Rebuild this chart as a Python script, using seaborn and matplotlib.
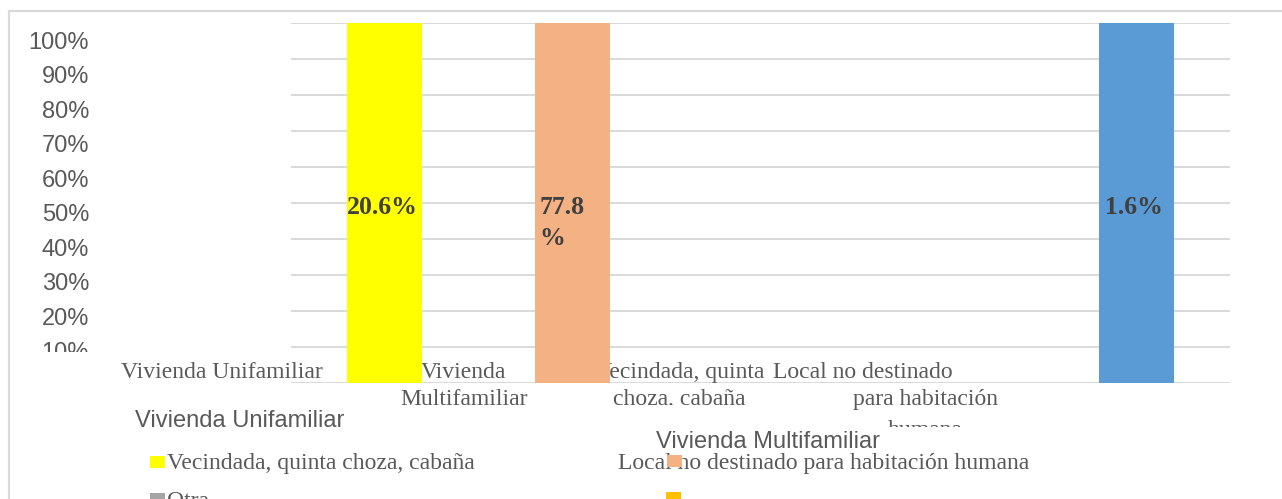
import numpy as np
import pandas as pd
import seaborn as sns
import matplotlib
matplotlib.use("Agg")
import matplotlib.pyplot as plt
from matplotlib import transforms
from matplotlib.patches import Rectangle

# ---------------- data ----------------
categories = ["Vivienda Unifamiliar", "Vivienda Multifamiliar",
              "Vecindada, quinta choza, cabaña",
              "Local no destinado para habitación humana", "Otra"]
axis_labels = ["Vivienda Unifamiliar", "Vivienda\nMultifamiliar",
               "Vecindada, quinta\nchoza, cabaña",
               "Local no destinado\npara habitación\nhumana", "Otra"]
values = [20.6, 77.8, 0.0, 0.0, 1.6]          # percent shown on bars
bar_colors = ["#FFFF00", "#F4B183", "#FFFFFF", "#FFFFFF", "#5B9BD5"]
y_ticks = [0.0, 0.1, 0.2, 0.3, 0.4, 0.5, 0.6, 0.7, 0.8, 0.9, 1.0]
y_tick_labels = ["0%", "10%", "20%", "30%", "40%", "50%", "60%", "70%", "80%", "90%", "100%"]
legend_labels = ["Vivienda Unifamiliar", "Vivienda Multifamiliar",
                 "Vecindada, quinta choza, cabaña",
                 "Local no destinado para habitación humana", "Otra", ""]
legend_colors = [None, None, "#FFFF00", "#F4B183", "#A5A5A5", "#FFC000"]

# 100% stacked: each category holds a single series -> share of its category
shares = [1.0 if v > 0 else 0.0 for v in values]

# ---------------- style ----------------
W, H = 1282, 499
sns.set_theme(style="white")
plt.rcParams["font.family"] = ["Liberation Sans", "DejaVu Sans"]
TXT = "#595959"
SERIF = ["Liberation Serif", "DejaVu Serif"]
SANS = ["Liberation Sans", "DejaVu Sans"]

fig = plt.figure(figsize=(W / 100, H / 100), dpi=100)
top_px = transforms.Affine2D().scale(1 / W, -1 / H).translate(0, 1) + fig.transFigure


def mask(x0, y0, x1, y1):
    """White cover that cuts text off where the original chart clips it."""
    fig.patches.append(Rectangle((x0, y1), x1 - x0, y0 - y1, transform=top_px,
                                 facecolor="white", edgecolor="none", zorder=1))


# outer frame
fig.patches.append(Rectangle((9 / W, -0.2), 1.5, 1.2 - 11 / H, transform=fig.transFigure,
                             fill=False, edgecolor="#D9D9D9", linewidth=1.6, zorder=0.5))

# main plot area
ax_l, ax_r, ax_t, ax_b = 291, 1230, 23, 383
ax = fig.add_axes([ax_l / W, 1 - ax_b / H, (ax_r - ax_l) / W, (ax_b - ax_t) / H])
df = pd.DataFrame({"cat": categories, "share": shares})
sns.barplot(data=df, x="cat", y="share", hue="cat", order=categories, hue_order=categories,
            palette=dict(zip(categories, bar_colors)), width=0.4, saturation=1,
            legend=False, ax=ax, zorder=2, linewidth=0, edgecolor="none")
ax.set_xlim(-0.5, len(categories) - 0.5)
ax.set_ylim(0, 1)
ax.set_yticks(y_ticks)
ax.yaxis.grid(True, color="#D9D9D9", linewidth=1.4, zorder=0)
ax.set_axisbelow(True)
ax.tick_params(left=False, labelleft=False, bottom=False, labelbottom=False)
ax.set_xlabel("")
ax.set_ylabel("")
for s in ax.spines.values():
    s.set_visible(False)

# category labels (drawn beneath bars)
line_dx = [[-163], [-109, -109], [-81, -81], [-85, -23, -23], [0]]
line_y = [373, 400, 431]
for i, lab in enumerate(axis_labels):
    for j, line in enumerate(lab.split("\n")):
        tr = transforms.blended_transform_factory(ax.transData, top_px) + \
            transforms.ScaledTranslation(line_dx[i][j] / 100, 0, fig.dpi_scale_trans)
        ax.text(i, line_y[j], line, transform=tr, ha="center", va="center",
                fontsize=17, family=SERIF, color=TXT, zorder=1)
mask(390, 405, 775, 420)
mask(880, 427, 980, 445)

# value labels on bars
wrap = [False, True, False, False, False]
for i, v in enumerate(values):
    if v <= 0:
        continue
    txt = f"{v:.1f}%"
    if wrap[i]:
        txt = txt[:-1] + "\n%"
        ax.text(i - 0.2 + 0.025, 0.52, txt, ha="left", va="top", fontsize=18.5,
                family=SERIF, weight="bold", color="#404040", zorder=3, linespacing=1.45)
    else:
        ax.text(i - 0.012, 0.488, txt, ha="center", va="center", fontsize=18.5,
                family=SERIF, weight="bold", color="#404040", zorder=3)

# y tick labels (own strip, cut off at the bottom like the original)
ax_lab = fig.add_axes([0, 1 - 352 / H, 100 / W, (352 - 15) / H])
ax_lab.set_axis_off()
ax_lab.set_xlim(0, 100)
zero_px, full_px = 387.4, 43.0
ax_lab.set_ylim((zero_px - 352) / (zero_px - full_px), (zero_px - 15) / (zero_px - full_px))
for v, lab in zip(y_ticks[1:], y_tick_labels[1:]):
    ax_lab.text(89, v, lab, ha="right", va="center", fontsize=17, family=SANS, color=TXT)
mask(15, 352, 110, 362)

# legend (as laid out in the original)
leg_text_pos = [(135, 421, SANS), (656, 442, SANS), (167, 463, SERIF),
                (618, 463, SERIF), (167, 502, SERIF), (683, 502, SERIF)]
leg_marker_pos = [None, None, (150, 456), (667, 455), (150, 493), (666, 492)]
for lab, col, (tx, ty, fam), mp in zip(legend_labels, legend_colors, leg_text_pos, leg_marker_pos):
    if lab:
        fig.text(tx / W, 1 - ty / H, lab, ha="left", va="center", fontsize=17,
                 family=fam, color=TXT, zorder=2)
    if col is not None:
        fig.patches.append(Rectangle((mp[0] / W, 1 - (mp[1] + 12) / H), 15 / W, 12 / H,
                                     transform=fig.transFigure, facecolor=col,
                                     edgecolor="none", zorder=3))

fig.savefig("out.png", dpi=100)
